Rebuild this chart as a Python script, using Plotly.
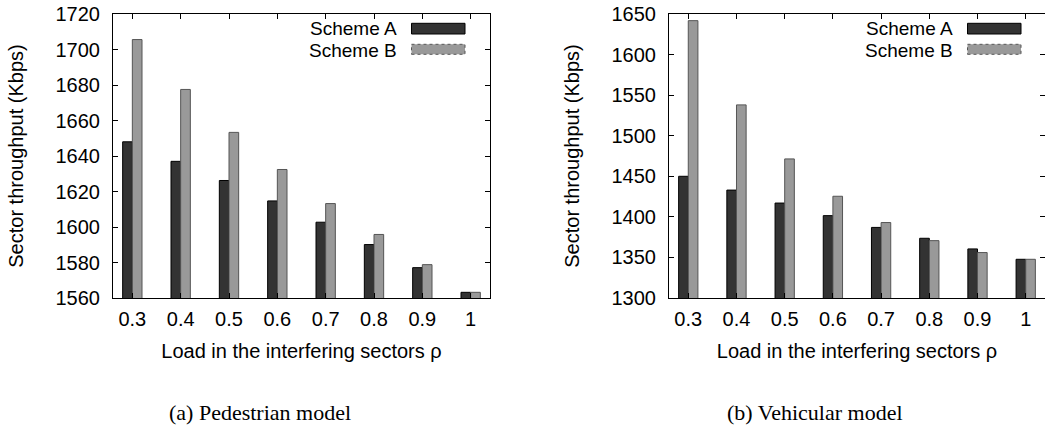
import plotly.graph_objects as go

W, H = 1045, 431

loads = ["0.3", "0.4", "0.5", "0.6", "0.7", "0.8", "0.9", "1"]
ped_a = [1648, 1637, 1626.2, 1614.7, 1602.7, 1590.1, 1577.1, 1563.2]
ped_b = [1705.6, 1677.5, 1653.3, 1632.4, 1613.2, 1595.8, 1578.8, 1563.2]
veh_a = [1450, 1433, 1417, 1401.5, 1387, 1373.6, 1360.5, 1347.7]
veh_b = [1641.8, 1538, 1471.4, 1425.4, 1393, 1370.7, 1356, 1347.7]
series_names = ["Scheme A", "Scheme B"]
ped_ticks = [1560, 1580, 1600, 1620, 1640, 1660, 1680, 1700, 1720]
veh_ticks = [1300, 1350, 1400, 1450, 1500, 1550, 1600, 1650]
captions = ["(a) Pedestrian model", "(b) Vehicular model"]
x_title = "Load in the interfering sectors ρ"
y_title = "Sector throughput (Kbps)"

COL_A, COL_B = "#333333", "#999999"
LINE_A, LINE_B = "#000000", "#555555"
FONT = "Liberation Sans, Arial, Helvetica, sans-serif"


def px(x):
    return min(max(x / W, 0.0), 1.0)


def py(y):
    return min(max(1 - y / H, 0.0), 1.0)


fig = go.Figure()
for xa, ya, a, b in [("x", "y", ped_a, ped_b), ("x2", "y2", veh_a, veh_b)]:
    fig.add_trace(go.Bar(x=loads, y=a, name=series_names[0], xaxis=xa, yaxis=ya,
                         marker=dict(color=COL_A, line=dict(color=LINE_A, width=1)),
                         showlegend=False))
    fig.add_trace(go.Bar(x=loads, y=b, name=series_names[1], xaxis=xa, yaxis=ya,
                         marker=dict(color=COL_B, line=dict(color=LINE_B, width=1)),
                         showlegend=False))

common_x = dict(type="category", range=[-0.4, 7.4], showline=True, linecolor="black",
                linewidth=1, mirror="ticks", ticks="inside", ticklen=5, tickcolor="black",
                showgrid=False, zeroline=False, automargin=False, ticklabelstandoff=3,
                tickfont=dict(size=20, color="black"),
                title=dict(text=x_title, font=dict(size=20, color="black"), standoff=14))
common_y = dict(showline=True, linecolor="black", linewidth=1, mirror="ticks",
                ticks="inside", ticklen=5, tickcolor="black", showgrid=False,
                zeroline=False, automargin=False, ticklabelstandoff=8,
                tickfont=dict(size=20, color="black"),
                title=dict(text=y_title, font=dict(size=20, color="black"), standoff=26))

yd = [py(298), py(14)]
fig.update_layout(
    width=W, height=H, margin=dict(l=0, r=0, t=0, b=0, autoexpand=False),
    paper_bgcolor="white", plot_bgcolor="white",
    font=dict(family=FONT, size=20, color="black"),
    barmode="group", bargap=0.6, bargroupgap=0,
    xaxis=dict(common_x, domain=[px(113), px(490)], anchor="y"),
    yaxis=dict(common_y, domain=yd, range=[1560, 1720], tickvals=ped_ticks, anchor="x"),
    xaxis2=dict(common_x, domain=[px(669), px(1046)], anchor="y2"),
    yaxis2=dict(common_y, domain=yd, range=[1300, 1650], tickvals=veh_ticks, anchor="x2"),
)

# legends (drawn manually to mimic gnuplot style: text left, sample box at right)
shapes = []
annotations = []
for right in (490, 1046):
    box_r = right - 25
    box_l = box_r - 53.5
    text_r = box_l - 14
    for (yt, yb, yc, fill, lc, name) in [(23.3, 34, 28.5, COL_A, LINE_A, series_names[0]),
                                         (44.3, 54.3, 50.5, COL_B, LINE_B, series_names[1])]:
        shapes.append(dict(type="rect", xref="paper", yref="paper",
                           x0=px(box_l), x1=px(box_r), y0=py(yb), y1=py(yt),
                           fillcolor=fill, line=dict(color=lc, width=1,
                                                     dash="solid" if fill == COL_A else "dot")))
        annotations.append(dict(text=name, xref="paper", yref="paper", x=px(text_r), y=py(yc),
                                xanchor="right", yanchor="middle", showarrow=False,
                                borderpad=0,
                                font=dict(size=19, color="black", family=FONT)))

for cx, cap in zip([260, 815], captions):
    annotations.append(dict(text=cap, xref="paper", yref="paper", x=px(cx), y=py(412),
                            xanchor="center", yanchor="middle", showarrow=False,
                            font=dict(size=22, color="black",
                                      family="Liberation Serif, Times New Roman, serif")))

fig.update_layout(shapes=shapes, annotations=annotations)
fig.write_html("out.html", config={"displayModeBar": False},
               post_script="document.body.style.margin='0px';")
